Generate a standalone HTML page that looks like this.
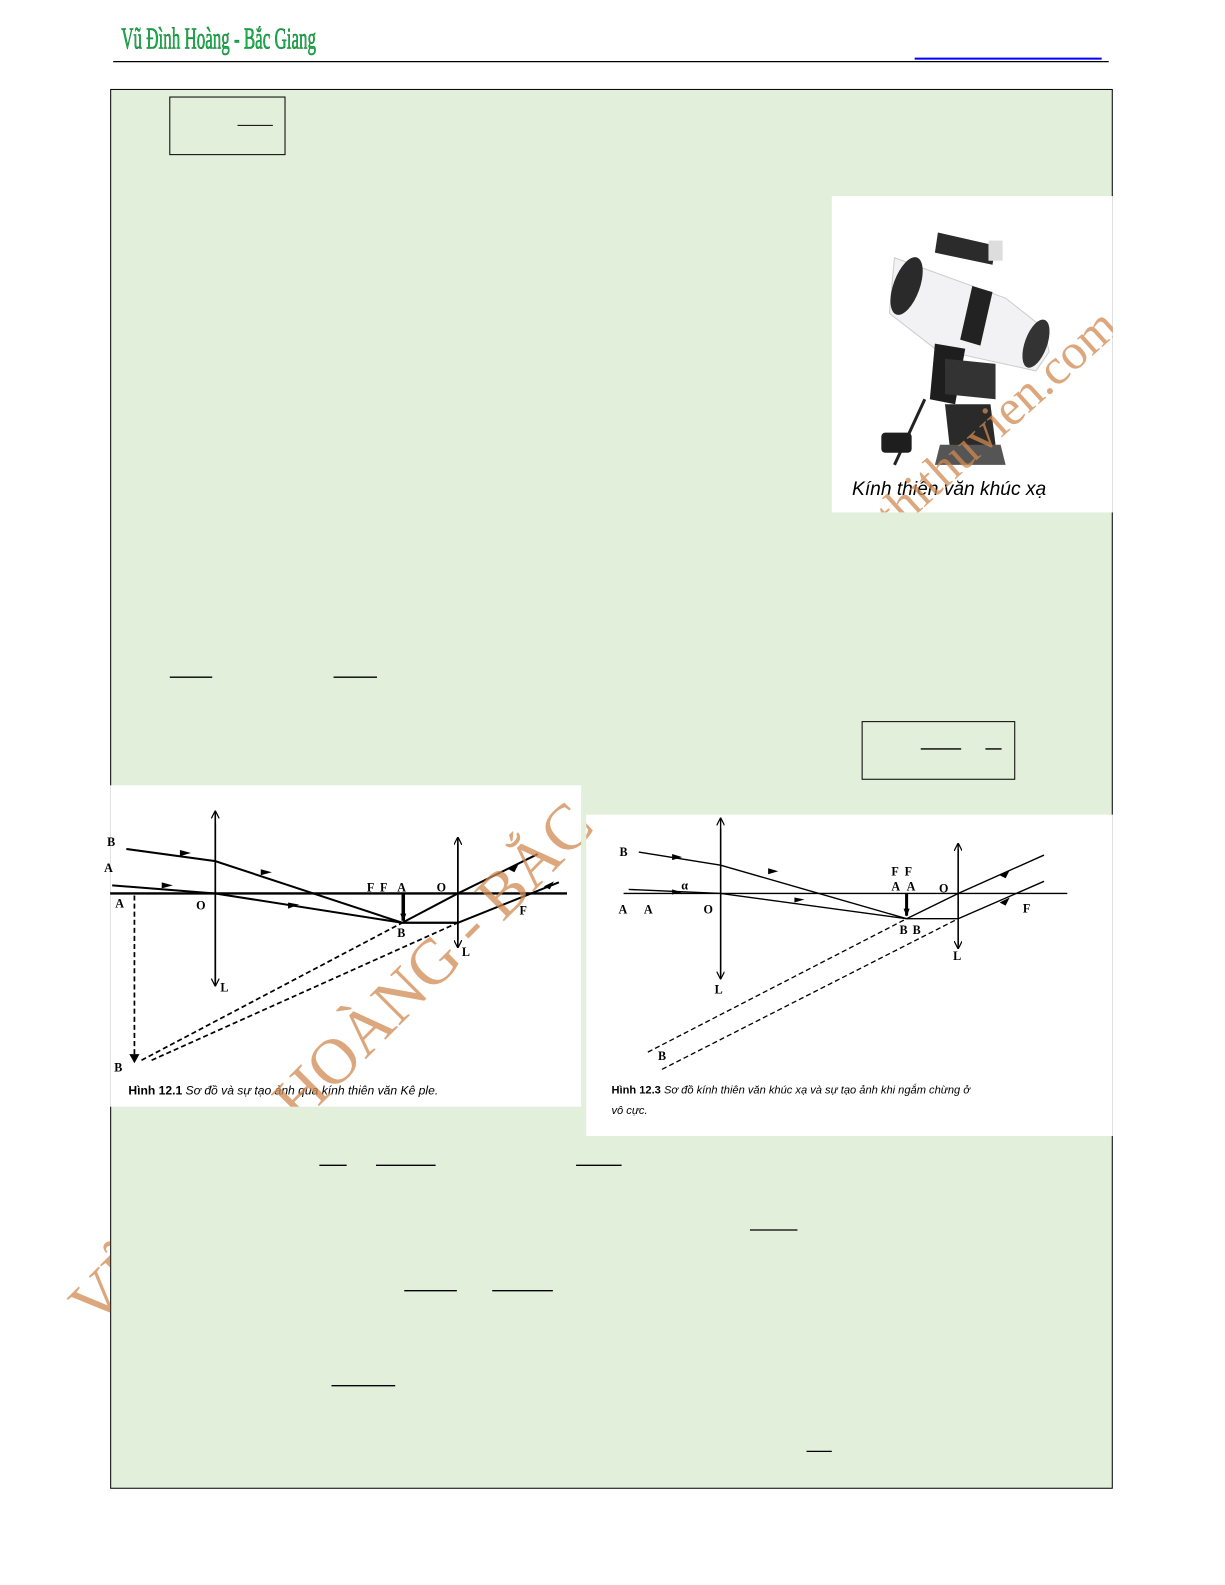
<!DOCTYPE html>
<html><head><meta charset="utf-8"><style>
html,body{margin:0;padding:0;background:#fff;}
svg{display:block;}
.lb{font-family:"Liberation Serif",serif;font-weight:bold;font-size:12px;fill:#000;}
.sans{font-family:"Liberation Sans",sans-serif;}
</style></head><body>
<svg width="1225" height="1585" viewBox="0 0 1225 1585" xmlns="http://www.w3.org/2000/svg">
<defs>
<marker id="ah" markerWidth="8" markerHeight="8" refX="7" refY="4" orient="auto" markerUnits="userSpaceOnUse"><path d="M0,1 L8,4 L0,7 Z" fill="#000"/></marker>
<marker id="ao" markerWidth="8" markerHeight="8" refX="7" refY="4" orient="auto" markerUnits="userSpaceOnUse"><path d="M0,0 L8,4 L0,8" fill="none" stroke="#000" stroke-width="1.2"/></marker>
<clipPath id="outside"><path d="M0,0 H1225 V1585 H0 Z M109,88 V1473 H1101 V88 Z" clip-rule="evenodd"/></clipPath>
<clipPath id="imgs"><rect x="109" y="777" width="466" height="318"/><rect x="580" y="806" width="521" height="318"/><rect x="823" y="194" width="278" height="313"/></clipPath>
</defs>
<g transform="scale(1.0107)">
<!-- header -->
<text x="120" y="48" style="font-family:'Liberation Serif',serif" font-size="30" fill="#19b04a" stroke="#0a7a30" stroke-width="0.6" transform="translate(120 0) scale(0.56 1) translate(-120 0)">Vũ Đình Hoàng - Bắc Giang</text>
<line x1="112" y1="61" x2="1097" y2="61" stroke="#000" stroke-width="1.3"/>
<line x1="905" y1="58" x2="1090" y2="58" stroke="#0000ff" stroke-width="2"/>
<!-- panel -->
<rect x="109.5" y="88.5" width="991" height="1384" fill="#e2efda" stroke="#000" stroke-width="1"/>
<!-- boxes and fraction lines -->
<rect x="168" y="96" width="114" height="57" fill="none" stroke="#000" stroke-width="1"/>
<line x1="235" y1="124" x2="270" y2="124" stroke="#000"/>
<line x1="168" y1="670" x2="210" y2="670" stroke="#000" stroke-width="1.3"/>
<line x1="330" y1="670" x2="373" y2="670" stroke="#000" stroke-width="1.3"/>
<rect x="853" y="714" width="151" height="57" fill="none" stroke="#000" stroke-width="1"/>
<line x1="911" y1="741" x2="951" y2="741" stroke="#000" stroke-width="1.3"/>
<line x1="975" y1="741" x2="991" y2="741" stroke="#000" stroke-width="1.3"/>
<line x1="316" y1="1153" x2="343" y2="1153" stroke="#000" stroke-width="1.3"/>
<line x1="372" y1="1153" x2="431" y2="1153" stroke="#000" stroke-width="1.3"/>
<line x1="570" y1="1153" x2="615" y2="1153" stroke="#000" stroke-width="1.3"/>
<line x1="742" y1="1217" x2="789" y2="1217" stroke="#000" stroke-width="1.3"/>
<line x1="400" y1="1277" x2="452" y2="1277" stroke="#000" stroke-width="1.3"/>
<line x1="487" y1="1277" x2="547" y2="1277" stroke="#000" stroke-width="1.3"/>
<line x1="328" y1="1371" x2="391" y2="1371" stroke="#000" stroke-width="1.3"/>
<line x1="798" y1="1436" x2="823" y2="1436" stroke="#000" stroke-width="1.3"/>

<!-- telescope image -->
<rect x="823" y="194" width="278" height="313" fill="#fff"/>
<g>
<polygon points="885,255 995,295 1033,325 1038,348 1025,367 925,345 880,310" fill="#f2f2f4" stroke="#ccc"/>
<ellipse cx="897" cy="283" rx="13" ry="30" transform="rotate(20 897 283)" fill="#2a2a2a"/>
<ellipse cx="1025" cy="340" rx="11" ry="25" transform="rotate(20 1025 340)" fill="#333"/>
<polygon points="962,283 982,289 970,342 950,336" fill="#222"/>
<polygon points="928,230 985,243 982,262 925,250" fill="#2b2b2b"/>
<rect x="978" y="238" width="14" height="20" fill="#ddd"/>
<polygon points="925,340 955,345 945,400 920,395" fill="#1e1e1e"/>
<polygon points="935,355 985,360 985,395 935,390" fill="#333"/>
<polygon points="935,400 980,400 985,440 940,445" fill="#2a2a2a"/>
<polygon points="930,440 990,440 995,460 925,460" fill="#555"/>
<line x1="915" y1="395" x2="885" y2="460" stroke="#222" stroke-width="3"/>
<rect x="872" y="428" width="30" height="20" rx="4" fill="#1e1e1e"/>
</g>
<text class="sans" x="843" y="490" font-size="19" font-style="italic" fill="#000">Kính thiên văn khúc xạ</text>

<!-- left diagram -->
<rect x="109" y="777" width="466" height="318" fill="#fff"/>
<g stroke="#000" fill="none">
<line x1="109" y1="884" x2="561" y2="884" stroke-width="2.4"/>
<line x1="213" y1="971" x2="213" y2="803" stroke-width="1.6" marker-end="url(#ao)"/>
<line x1="213" y1="815" x2="213" y2="975" stroke-width="1.6" marker-end="url(#ao)"/>
<line x1="453" y1="930" x2="453" y2="829" stroke-width="1.6" marker-end="url(#ao)"/>
<line x1="453" y1="835" x2="453" y2="937" stroke-width="1.6" marker-end="url(#ao)"/>
<polyline points="125,840 213,852 398,913" stroke-width="2"/>
<polyline points="111,876 213,884 398,913" stroke-width="2"/>
<line x1="399" y1="884" x2="399" y2="911" stroke-width="3.5" marker-end="url(#ah)"/>
<line x1="398" y1="913" x2="453" y2="913" stroke-width="2.2"/>
<polyline points="398,913 453,884 532,845" stroke-width="2"/>
<polyline points="453,913 553,873" stroke-width="2"/>
<g stroke-dasharray="5,3" stroke-width="1.7">
<line x1="140" y1="1049" x2="398" y2="913"/>
<line x1="150" y1="1049" x2="453" y2="913"/>
<line x1="133" y1="886" x2="133" y2="1044"/>
</g>
</g>
<g fill="#000">
<path d="M178,841 l11,3 -11,3z"/><path d="M258,860 l11,3 -11,3z"/><path d="M160,873 l11,3 -11,3z"/><path d="M285,893 l11,2 -11,4z"/>
<path d="M503,860 l10,-5 -4,8z"/><path d="M538,877 l10,-5 -4,8z"/><path d="M128,1043 l10,0 -5,9z"/>
</g>
<text class="lb" x="106" y="837">B</text><text class="lb" x="103" y="863">A</text><text class="lb" x="114" y="898">A</text>
<text class="lb" x="194" y="900">O</text><text class="lb" x="363" y="882">F</text><text class="lb" x="376" y="882">F</text><text class="lb" x="393" y="882">A</text>
<text class="lb" x="432" y="882">O</text><text class="lb" x="514" y="905">F</text><text class="lb" x="393" y="927">B</text>
<text class="lb" x="457" y="946">L</text><text class="lb" x="218" y="981">L</text><text class="lb" x="113" y="1060">B</text>
<text class="sans" x="127" y="1083" font-size="12" fill="#000"><tspan font-weight="bold">Hình 12.1</tspan><tspan font-style="italic"> Sơ đồ và sự tạo ảnh qua kính thiên văn Kê ple.</tspan></text>

<!-- right diagram -->
<rect x="580" y="806" width="521" height="318" fill="#fff"/>
<g stroke="#000" fill="none">
<line x1="617" y1="884" x2="1056" y2="884" stroke-width="1.4"/>
<line x1="713" y1="965" x2="713" y2="810" stroke-width="1.4" marker-end="url(#ao)"/>
<line x1="713" y1="820" x2="713" y2="968" stroke-width="1.4" marker-end="url(#ao)"/>
<line x1="948" y1="935" x2="948" y2="835" stroke-width="1.4" marker-end="url(#ao)"/>
<line x1="948" y1="840" x2="948" y2="938" stroke-width="1.4" marker-end="url(#ao)"/>
<polyline points="632,843 713,856 897,909" stroke-width="1.4"/>
<polyline points="622,880 713,884 897,909" stroke-width="1.4"/>
<line x1="897" y1="884" x2="897" y2="906" stroke-width="3" marker-end="url(#ah)"/>
<line x1="897" y1="909" x2="948" y2="909" stroke-width="1.4"/>
<polyline points="897,909 948,884 1033,846" stroke-width="1.4"/>
<polyline points="948,909 1033,872" stroke-width="1.4"/>
<g stroke-dasharray="5,3" stroke-width="1.3">
<line x1="641" y1="1041" x2="897" y2="909"/>
<line x1="655" y1="1058" x2="948" y2="909"/>
</g>
</g>
<g fill="#000">
<path d="M665,845 l10,3 -10,3z"/><path d="M665,880 l10,3 -10,2z"/><path d="M760,859 l10,3 -10,3z"/><path d="M786,888 l10,2 -10,3z"/>
<path d="M989,866 l10,-5 -4,8z"/><path d="M989,893 l10,-5 -4,8z"/>
</g>
<text class="lb" x="613" y="847">B</text><text class="lb" x="612" y="904">A</text><text class="lb" x="637" y="904">A</text>
<text class="lb" x="674" y="880">α</text><text class="lb" x="696" y="904">O</text>
<text class="lb" x="882" y="866">F</text><text class="lb" x="895" y="866">F</text><text class="lb" x="882" y="881">A</text><text class="lb" x="897" y="881">A</text>
<text class="lb" x="929" y="883">O</text><text class="lb" x="1012" y="903">F</text><text class="lb" x="890" y="924">B</text><text class="lb" x="903" y="924">B</text>
<text class="lb" x="943" y="950">L</text><text class="lb" x="707" y="983">L</text><text class="lb" x="651" y="1049">B</text>
<text class="sans" x="605" y="1082" font-size="11" fill="#000"><tspan font-weight="bold">Hình 12.3</tspan><tspan font-style="italic"> Sơ đồ kính thiên văn khúc xạ và sự tạo ảnh khi ngắm chừng ở</tspan></text>
<text class="sans" x="605" y="1102" font-size="11" font-style="italic" fill="#000">vô cực.</text>

<!-- watermark (only visible outside panel and over images) -->
<g clip-path="url(#outside)">
<text x="0" y="0" style="font-family:'Liberation Serif',serif" font-size="64" fill="#d08a50" fill-opacity="0.75" transform="translate(95 1315) rotate(-45)">VŨ ĐÌNH HOÀNG - BẮC GIANG</text>
</g>
<g clip-path="url(#imgs)">
<text x="0" y="0" style="font-family:'Liberation Serif',serif" font-size="64" fill="#d08a50" fill-opacity="0.75" transform="translate(95 1315) rotate(-45)">VŨ ĐÌNH HOÀNG - BẮC GIANG</text>
<text x="0" y="0" style="font-family:'Liberation Serif',serif" font-size="50" fill="#d08a50" fill-opacity="0.75" transform="translate(850 560) rotate(-42)">dethithuvien.com</text>
</g>
</g>
</svg>
</body></html>
